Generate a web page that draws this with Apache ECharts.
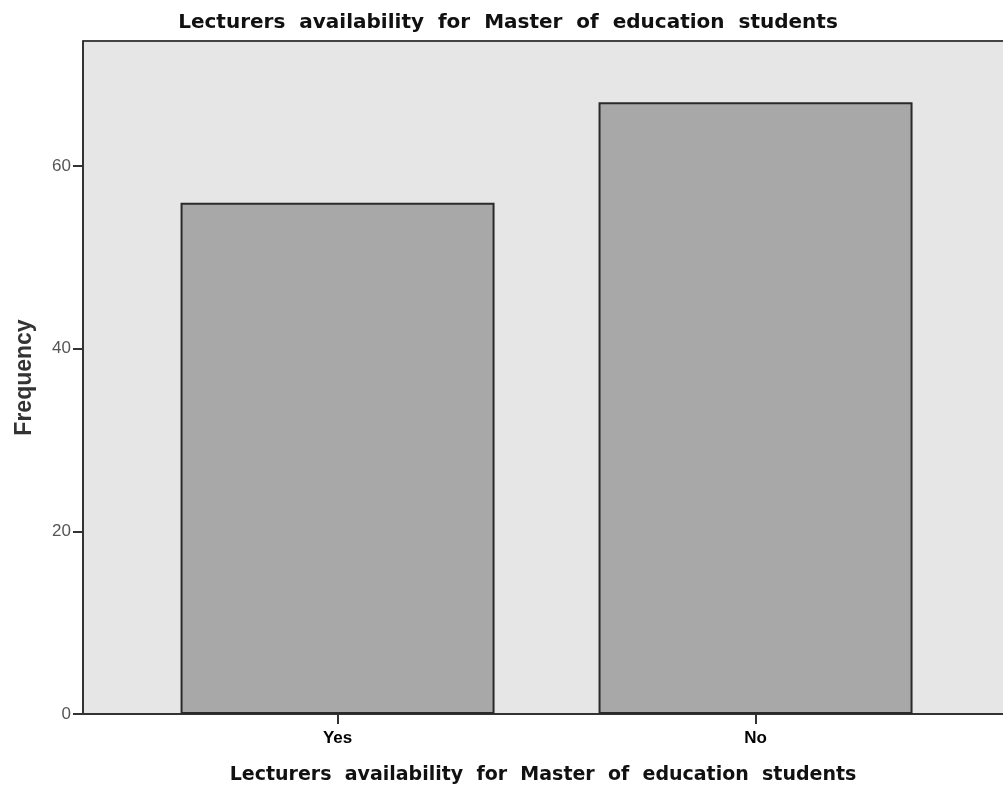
<!DOCTYPE html>
<html><head><meta charset="utf-8">
<script src="https://cdn.jsdelivr.net/npm/echarts@6/dist/echarts.min.js"></script>
<style>html,body{margin:0;padding:0;background:#fff}#c{width:1003px;height:791px}</style>
</head><body><div id="c"></div>
<script>
const categories = ['Yes', 'No'];
const frequencies = [56, 67];
const yTicks = [0, 20, 40, 60];
const titleText = 'Lecturers  availability  for  Master  of  education  students';
const xTitle = 'Lecturers  availability  for  Master  of  education  students';
const yTitle = 'Frequency';

const chart = echarts.init(document.getElementById('c'));
const positions = categories.map((c, i) => i + 1);
chart.setOption({
  backgroundColor: '#ffffff',
  animation: false,
  title: {
    text: titleText, left: 503, top: 8, textAlign: 'center',
    textStyle: { fontFamily: 'DejaVu Sans', fontWeight: 'bold', fontSize: 20, color: '#111' }
  },
  grid: { left: 83, right: 0, top: 41, bottom: 77, containLabel: false, outerBoundsMode: 'none',
    show: true, backgroundColor: '#e6e6e6', borderWidth: 0 },
  xAxis: {
    type: 'value', min: 0.391, max: 2.592,
    splitLine: { show: false },
    axisLine: { show: true, onZero: false, lineStyle: { color: '#333', width: 2 } },
    axisTick: { show: true, customValues: positions, length: 10, lineStyle: { color: '#333', width: 2 } },
    axisLabel: { customValues: positions, formatter: v => categories[Math.round(v) - 1] || '',
      fontFamily: 'Liberation Sans', fontWeight: 'bold', fontSize: 17, color: '#000', margin: 16 },
    name: xTitle, nameLocation: 'middle', nameGap: 52,
    nameTextStyle: { fontFamily: 'DejaVu Sans', fontWeight: 'bold', fontSize: 19, color: '#111' }
  },
  yAxis: {
    type: 'value', min: 0, max: 73.7, interval: 20,
    splitLine: { show: false },
    axisLine: { show: true, lineStyle: { color: '#333', width: 2 } },
    axisTick: { show: true, customValues: yTicks, length: 10, lineStyle: { color: '#333', width: 2 } },
    axisLabel: { customValues: yTicks, fontFamily: 'Liberation Sans', fontSize: 17, color: '#555', margin: 12 },
    name: yTitle, nameLocation: 'middle', nameGap: 47,
    nameTextStyle: { fontFamily: 'Liberation Sans', fontWeight: 'bold', fontSize: 23, color: '#333' }
  },
  series: [{
    type: 'bar',
    data: positions.map((p, i) => [p, frequencies[i]]),
    barWidth: 314,
    itemStyle: { color: '#a8a8a8', borderColor: '#2a2a2a', borderWidth: 2 }
  }],
  graphic: [{
    type: 'line', shape: { x1: 83, y1: 41, x2: 1003, y2: 41 }, style: { stroke: '#444', lineWidth: 2 }
  }]
});
</script></body></html>
